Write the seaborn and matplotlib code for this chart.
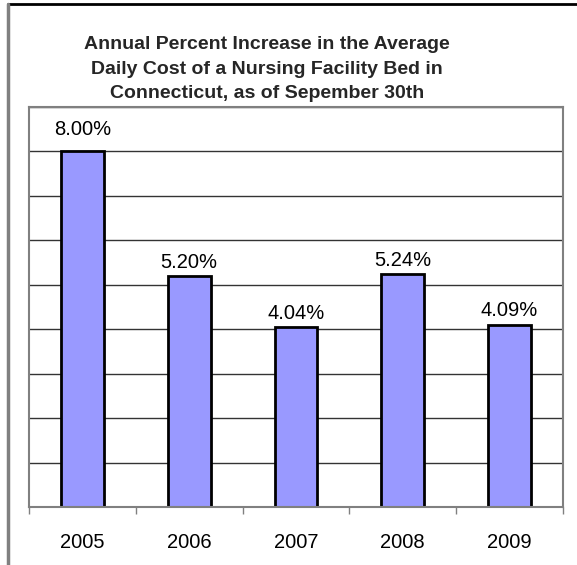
import matplotlib
matplotlib.use("Agg")
import matplotlib.pyplot as plt
import seaborn as sns
import pandas as pd
from matplotlib.lines import Line2D
from matplotlib.ticker import MultipleLocator, FixedLocator

years = ["2005", "2006", "2007", "2008", "2009"]
values = [8.00, 5.20, 4.04, 5.24, 4.09]
title = "Annual Percent Increase in the Average\nDaily Cost of a Nursing Facility Bed in\nConnecticut, as of Sepember 30th"

sns.set_theme(style="white")
plt.rcParams["font.family"] = ["Liberation Sans", "DejaVu Sans"]

df = pd.DataFrame({"year": years, "value": values})

fig = plt.figure(figsize=(5.77, 5.65), dpi=100)
ax = fig.add_axes([29/577, 58/565, (563-29)/577, (507-107)/565])

sns.barplot(data=df, x="year", y="value", ax=ax, color="#9999FF",
            saturation=1, width=0.4, edgecolor="black", linewidth=2)

ax.set_ylim(0, 9)
ax.set_xlim(-0.5, len(years) - 0.5)
ax.yaxis.set_major_locator(MultipleLocator(1))
ax.grid(axis="y", color="#333333", linewidth=1)
ax.set_axisbelow(True)
ax.set_yticklabels([])
ax.tick_params(axis="y", length=0)
ax.set_xlabel("")
ax.set_ylabel("")

ax.xaxis.set_minor_locator(FixedLocator([i - 0.5 for i in range(len(years) + 1)]))
ax.tick_params(axis="x", which="major", length=0, pad=19, labelsize=14.5, labelcolor="black")
ax.tick_params(axis="x", which="minor", length=5, width=1, color="#808080", direction="out", bottom=True)

for s in ax.spines.values():
    s.set_visible(True)
    s.set_color("#808080")
    s.set_linewidth(1.5)

label_pads = [9, 3, 3.5, 3, 4]
for patch, v, p in zip(ax.containers[0], values, label_pads):
    ax.annotate(f"{v:.2f}%", xy=(patch.get_x() + patch.get_width() / 2, patch.get_height()),
                xytext=(0, p), textcoords="offset points", ha="center", va="bottom",
                fontsize=14.5, color="black")

fig.text(267/577, 1 - 69/565, title, ha="center", va="center",
         fontsize=14, fontweight="bold", linespacing=1.55)

fig.add_artist(Line2D([8/577, 1], [1 - 4/565, 1 - 4/565], color="black", linewidth=2,
                      transform=fig.transFigure))
fig.add_artist(Line2D([8/577, 8/577], [0, 1 - 4/565], color="#808080", linewidth=2.5,
                      transform=fig.transFigure))

fig.savefig("out.png", dpi=100)
